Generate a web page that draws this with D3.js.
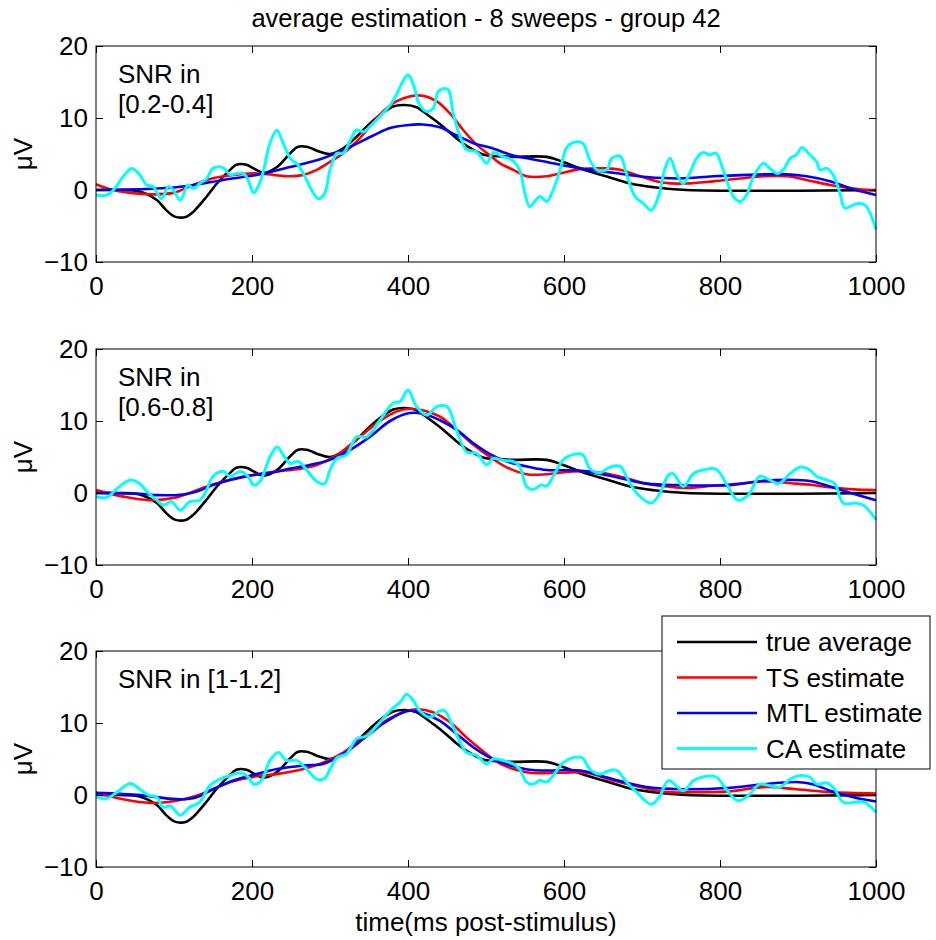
<!DOCTYPE html>
<html lang="en">
<head>
<meta charset="UTF-8">
<title>average estimation - 8 sweeps - group 42</title>
<script src="https://d3js.org/d3.v7.min.js"></script>
<style>
    body {
        margin: 0;
        background: #fff;
    }
    svg {
        display: block;
    }
    text {
        font-family: "Liberation Sans", Arial, sans-serif;
        font-size: 26px;
        fill: #000;
    }
</style>
</head>
<body>
<script>
// tick values and labels
const xTicks = [0, 200, 400, 600, 800, 1000];
const yTicks = [-10, 0, 10, 20];
const snrLabels = [["SNR in", "[0.2-0.4]"], ["SNR in", "[0.6-0.8]"], ["SNR in [1-1.2]"]];
const legendNames = ["true average", "TS estimate", "MTL estimate", "CA estimate"];

// true average (same in all panels), [ms, uV]
const trueAvg = [[0,0],[30,0],[56,-0.2],[78,-1.4],[90,-2.8],[101,-3.7],[116,-3.7],[125,-3],[142,-0.9],[155,0.9],[172,2.8],[180,3.5],[193,3.5],[202,3],[215,2.4],[232,3.2],[249,5.1],[259,6],[270,6],[287,5.3],[300,5],[317,5.8],[334,7.4],[347,8.8],[364,10.4],[381,11.6],[396,11.8],[411,11.5],[428,10.2],[445,8.8],[462,7.2],[480,5.8],[497,4.9],[514,4.7],[535,4.6],[578,4.6],[599,3.9],[621,3.0],[663,1.6],[685,0.9],[714,0.4],[757,0],[1000,0]];

// SNR 0.2-0.4
const ts1 = [[0,0.8],[18,0.1],[44,-0.4],[69,-0.6],[99,-0.4],[120,0.5],[142,1.4],[163,1.9],[185,2.2],[206,2.3],[227,2.1],[249,1.9],[266,2.1],[283,2.8],[300,3.9],[317,5.1],[334,6.7],[351,8.8],[368,10.9],[385,12.3],[402,13],[419,13.1],[437,12.3],[454,10.6],[471,8.3],[488,6.3],[505,4.8],[518,3.7],[535,2.8],[552,1.9],[578,1.9],[599,2.4],[621,2.9],[655,3.0],[672,2.8],[698,1.9],[728,1.0],[757,0.9],[791,1.2],[826,1.6],[856,1.9],[886,1.9],[911,1.4],[941,0.7],[971,0.2],[1000,-0.1]];
const mtl1 = [[0,0],[78,0.2],[120,0.6],[163,1.4],[206,2.1],[249,3.2],[291,4.4],[326,6.0],[356,7.6],[377,8.6],[398,9.0],[419,9.1],[441,8.7],[462,7.6],[484,6.5],[505,5.9],[526,5.1],[535,4.8],[578,3.9],[621,3.0],[663,2.4],[706,1.8],[749,1.6],[791,1.9],[835,2.1],[877,2.2],[911,1.9],[941,1.2],[971,0.1],[1000,-0.7]];
const ca1 = [[0,-0.7],[14,-0.7],[24,0.2],[35,1.9],[46,3.0],[56,2.1],[65,0.7],[73,0.5],[84,-1.2],[93,0.5],[99,0],[108,-1.4],[118,0.7],[125,0.2],[133,0.9],[142,1.6],[150,3.0],[163,3.1],[172,2.1],[180,2.3],[189,2.3],[195,1.4],[202,-0.4],[208,0.5],[215,2.8],[223,6.5],[232,8.3],[240,6.5],[249,4.4],[259,3.5],[270,1.4],[279,-0.5],[285,-1.2],[293,-0.5],[300,2.8],[309,5.1],[317,5.1],[326,6.9],[334,8.3],[343,8.1],[351,8.8],[364,10.2],[377,11.8],[385,13.2],[392,14.8],[400,16.0],[407,14.6],[415,11.8],[424,10.9],[432,11.3],[439,13.7],[447,14.1],[452,13.9],[458,10.6],[467,7.4],[475,5.6],[488,5.3],[501,3.7],[509,5.2],[522,4.6],[533,4.2],[543,2.8],[550,-0.5],[556,-2.3],[569,-0.9],[578,-1.6],[586,0],[595,2.8],[603,5.8],[612,6.6],[624,6.5],[633,4.2],[642,2.8],[655,2.8],[661,4.4],[672,4.7],[680,2.3],[691,-0.9],[702,-1.9],[712,-2.8],[721,-0.9],[729,2.8],[736,4.4],[744,2.3],[753,0.9],[761,2.3],[770,4.4],[778,5.2],[787,4.9],[795,5.1],[804,2.8],[817,-0.9],[826,-1.6],[834,-0.7],[843,1.9],[856,3.7],[864,3.0],[873,2.3],[881,2.8],[890,4.4],[898,4.9],[905,5.9],[915,4.9],[924,3.9],[928,2.8],[937,3.0],[945,2.1],[954,-0.5],[960,-2.5],[975,-1.9],[986,-2.1],[1000,-5.5]];

// SNR 0.6-0.8
const ts2 = [[0,0.4],[35,-0.5],[69,-1.0],[99,-0.7],[120,0],[142,0.9],[163,1.6],[185,2.2],[206,2.6],[232,3.0],[257,3.3],[283,3.9],[309,5.3],[334,7.4],[360,9.7],[385,11.3],[402,11.7],[419,11.5],[441,10.6],[462,8.8],[484,6.7],[505,5.0],[526,3.6],[552,2.6],[578,2.6],[611,3.0],[633,3.0],[663,2.5],[685,1.9],[706,1.3],[732,0.9],[757,0.7],[791,1.0],[826,1.3],[856,1.6],[898,1.3],[919,1.1],[941,0.8],[971,0.5],[1000,0.4]];
const mtl2 = [[0,0],[56,-0.1],[78,-0.3],[112,-0.2],[129,0.2],[150,1.1],[172,1.8],[197,2.4],[223,2.8],[249,3.4],[274,3.9],[300,4.6],[326,6.0],[351,7.8],[377,10],[402,11.1],[419,11.0],[441,10.1],[462,8.8],[484,6.9],[505,5.4],[526,4.4],[556,3.6],[578,3.2],[621,3.1],[663,2.3],[706,1.3],[749,1.1],[813,1.1],[856,1.7],[898,1.8],[919,1.6],[941,0.9],[971,-0.1],[1000,-1.0]];
const ca2 = [[0,-0.5],[14,-0.6],[27,0.6],[44,1.8],[56,1.3],[67,0],[78,-1.0],[86,-1.7],[97,-1.2],[108,-2.4],[120,-1.2],[133,-1.0],[140,0],[150,2.3],[163,3.0],[172,2.3],[185,3.0],[195,2.3],[202,1.1],[210,1.6],[223,5.0],[232,6.4],[240,5.3],[249,4.1],[259,4.4],[270,3.2],[283,1.6],[293,1.3],[300,3.2],[309,4.8],[321,5.3],[334,7.8],[347,7.8],[364,10.1],[381,12.5],[390,12.7],[400,14.3],[411,12.0],[424,10.8],[437,12.0],[450,12.0],[462,8.8],[475,5.7],[488,5.5],[501,3.9],[509,4.8],[522,4.5],[535,4.4],[543,3.7],[552,0.9],[560,0.5],[571,1.1],[578,1.0],[588,2.7],[599,4.6],[610,5.3],[624,5.3],[633,3.4],[646,2.8],[659,3.6],[672,3.7],[680,2.3],[693,0],[712,-1.4],[723,0],[734,2.5],[740,2.7],[753,0.9],[766,2.7],[778,3.2],[795,3.3],[808,1.3],[823,-1.0],[836,-0.3],[851,2.3],[864,1.8],[875,1.3],[890,2.7],[903,3.6],[915,3.2],[924,2.3],[937,1.8],[947,1.3],[958,-1.4],[975,-1.4],[984,-1.7],[1000,-3.7]];

// SNR 1-1.2
const ts3 = [[0,0.3],[35,-0.6],[69,-1.1],[103,-0.8],[129,-0.1],[150,0.8],[176,1.9],[206,2.6],[232,2.9],[266,3.6],[291,4.5],[317,5.9],[343,8.0],[368,10.1],[394,11.5],[411,11.9],[432,11.5],[454,10.1],[475,8.0],[497,6.0],[514,4.6],[535,3.6],[556,3.1],[599,3.1],[629,3.1],[663,2.0],[698,1.1],[732,0.4],[770,0.4],[813,0.5],[856,1.1],[898,0.8],[941,0.4],[1000,0.2]];
const mtl3 = [[0,0.3],[56,0],[78,-0.3],[108,-0.6],[129,-0.3],[150,0.8],[176,2.0],[206,2.9],[232,3.6],[266,4.1],[291,4.3],[317,5.7],[343,7.8],[368,9.9],[394,11.5],[402,11.7],[419,11.4],[441,10.3],[462,8.5],[484,6.6],[505,5.2],[526,4.3],[556,3.5],[578,3.4],[621,3.4],[663,2.2],[706,1.1],[749,0.8],[813,1.0],[856,1.5],[898,1.8],[919,1.5],[941,0.6],[971,-0.3],[1000,-0.9]];
const ca3 = [[0,-0.3],[14,-0.5],[27,0.4],[44,1.6],[56,0.8],[67,0],[78,-0.3],[86,-1.7],[95,-1.5],[108,-2.8],[120,-1.7],[133,-1.0],[146,1.3],[159,2.2],[172,2.7],[185,3.1],[195,2.5],[202,1.5],[212,2.0],[223,4.8],[234,5.9],[244,4.8],[257,4.8],[270,3.6],[283,2.2],[293,2.3],[300,3.6],[309,5.2],[321,5.7],[334,7.8],[347,8.2],[360,9.6],[377,11.7],[390,12.9],[398,14.0],[407,13.1],[415,11.7],[428,10.8],[441,11.7],[447,11.7],[458,9.4],[467,7.3],[475,5.9],[488,5.5],[501,4.3],[509,5.0],[522,4.8],[535,4.3],[543,3.6],[552,1.8],[560,1.5],[569,2.0],[578,1.8],[586,2.7],[599,4.5],[612,5.2],[624,5.1],[633,3.6],[646,2.9],[659,3.4],[668,3.4],[680,1.8],[693,0.4],[712,-1.3],[723,-0.1],[734,2.0],[753,0.6],[766,2.0],[778,2.5],[795,2.5],[808,0.8],[823,-0.8],[836,-0.1],[851,1.5],[864,1.3],[877,1.1],[890,2.2],[903,2.7],[915,2.5],[924,1.5],[937,1.7],[947,0.8],[958,-1.0],[984,-1.0],[1000,-2.4]];

const colors = ["#000000", "#ff0000", "#0000ff", "#00ffff"];
const panels = [
    [trueAvg, ts1, mtl1, ca1],
    [trueAvg, ts2, mtl2, ca2],
    [trueAvg, ts3, mtl3, ca3]
];

const W = 936, H = 940;
const left = 96, plotW = 780, plotH = 216;
const tops = [46, 349, 651];

const svg = d3.select("body").append("svg")
    .attr("width", W)
    .attr("height", H);

const x = d3.scaleLinear().domain([0, 1000]).range([0, plotW]);
const y = d3.scaleLinear().domain([-10, 20]).range([plotH, 0]);

const line = d3.line()
    .x(d => x(d[0]))
    .y(d => y(d[1]))
    .curve(d3.curveCatmullRom.alpha(0.5));

panels.forEach((series, i) => {
    const g = svg.append("g").attr("transform", `translate(${left},${tops[i]})`);

    // series
    series.forEach((s, k) => {
        g.append("path")
            .datum(s)
            .attr("fill", "none")
            .attr("stroke", colors[k])
            .attr("stroke-width", k === 3 ? 3 : 2.6)
            .attr("stroke-linejoin", "round")
            .attr("d", line);
    });

    // axes, MATLAB style: ticks pointing in on all sides
    g.append("g")
        .attr("transform", `translate(0,${plotH})`)
        .call(d3.axisBottom(x).tickValues(xTicks).tickFormat(d3.format("d"))
            .tickSizeInner(-7).tickSizeOuter(0).tickPadding(15))
        .call(a => a.select(".domain").remove());
    g.append("g")
        .call(d3.axisTop(x).tickValues(xTicks).tickSizeInner(-7).tickSizeOuter(0).tickFormat(""))
        .call(a => a.select(".domain").remove());
    g.append("g")
        .call(d3.axisLeft(y).tickValues(yTicks).tickFormat(d3.format("d"))
            .tickSizeInner(-7).tickSizeOuter(0).tickPadding(8))
        .call(a => a.select(".domain").remove());
    g.append("g")
        .attr("transform", `translate(${plotW},0)`)
        .call(d3.axisRight(y).tickValues(yTicks).tickSizeInner(-7).tickSizeOuter(0).tickFormat(""))
        .call(a => a.select(".domain").remove());

    g.selectAll(".tick line").attr("stroke", "#000");
    g.selectAll(".tick text")
        .attr("font-family", "Liberation Sans, Arial, sans-serif")
        .attr("font-size", 25)
        .attr("fill", "#000");

    g.append("rect")
        .attr("width", plotW)
        .attr("height", plotH)
        .attr("fill", "none")
        .attr("stroke", "#000")
        .attr("stroke-width", 1);

    // SNR annotation
    snrLabels[i].forEach((t, j) => {
        g.append("text")
            .attr("x", 22)
            .attr("y", 37 + j * 30)
            .text(t);
    });

    // y label
    svg.append("text")
        .attr("transform", `translate(32,${tops[i] + plotH / 2}) rotate(-90)`)
        .attr("text-anchor", "middle")
        .text("\u03bcV");
});

// title and x label
svg.append("text")
    .attr("x", left + plotW / 2)
    .attr("y", 27)
    .attr("text-anchor", "middle")
    .style("font-size", "25.5px")
    .text("average estimation - 8 sweeps - group 42");

svg.append("text")
    .attr("x", left + plotW / 2)
    .attr("y", 931)
    .attr("text-anchor", "middle")
    .text("time(ms post-stimulus)");

// legend
const lg = svg.append("g").attr("transform", "translate(662,616)");
lg.append("rect")
    .attr("width", 268)
    .attr("height", 153)
    .attr("fill", "#fff")
    .attr("stroke", "#000");

legendNames.forEach((name, k) => {
    const yy = 26 + k * 35.5;
    lg.append("line")
        .attr("x1", 15).attr("x2", 95)
        .attr("y1", yy).attr("y2", yy)
        .attr("stroke", colors[k])
        .attr("stroke-width", k === 3 ? 3 : 2.6);
    lg.append("text")
        .attr("x", 104)
        .attr("y", yy)
        .attr("dy", "0.35em")
        .text(name);
});
</script>
</body>
</html>
